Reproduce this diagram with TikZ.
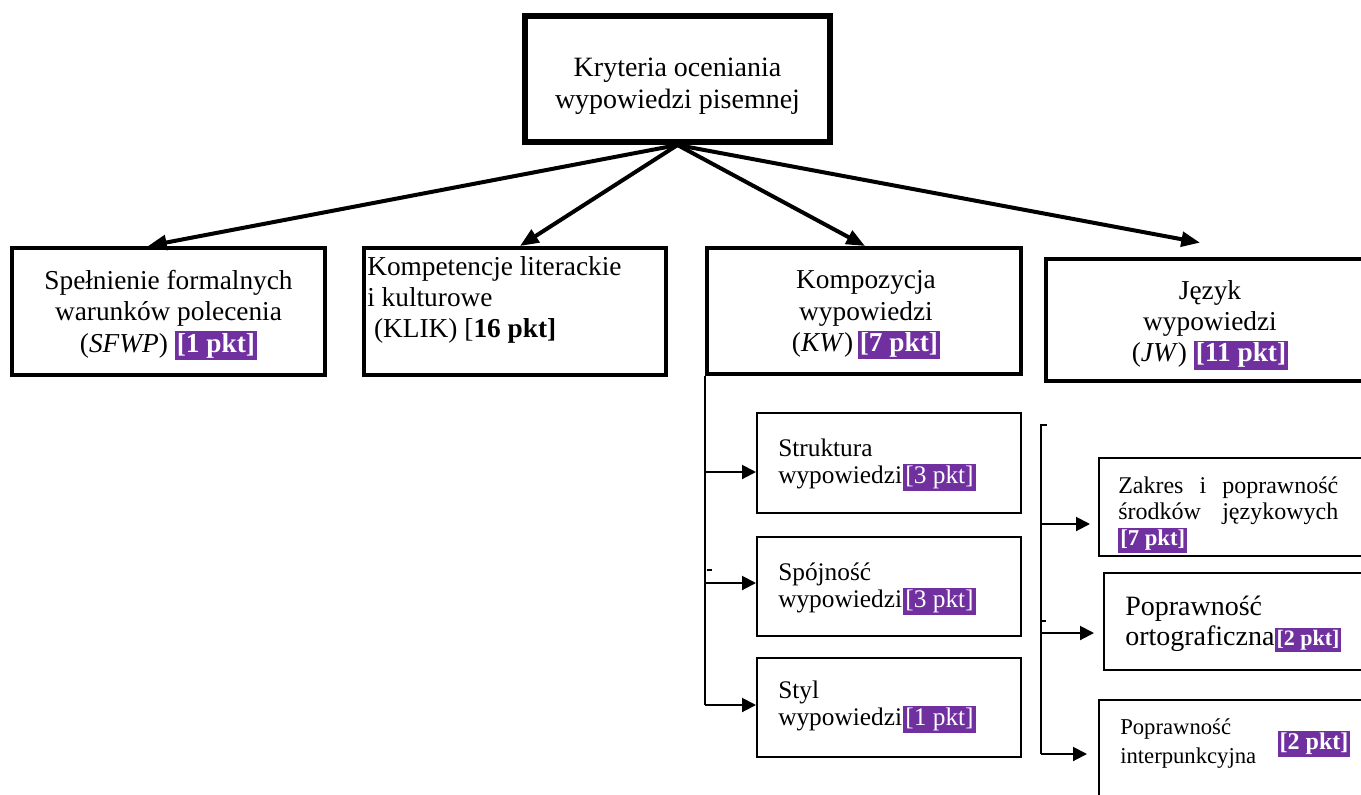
\documentclass[tikz,border=0pt]{standalone}
\usepackage{fontspec}
\setmainfont{Liberation Serif}
\usetikzlibrary{arrows.meta,calc}
\definecolor{hlp}{HTML}{7030A0}
\newcommand\hlb[1]{{\setlength{\fboxsep}{1.5pt}\colorbox{hlp}{\textcolor{white}{\textbf{#1}}}}}
\newcommand\hlr[1]{{\setlength{\fboxsep}{1.5pt}\colorbox{hlp}{\textcolor{white}{#1}}}}
\begin{document}
\begin{tikzpicture}[x=0.75pt,y=-0.75pt,
  topbox/.style={draw,line width=4.5pt,inner sep=0pt},
  mainbox/.style={draw,line width=3pt,inner sep=0pt},
  subbox/.style={draw,line width=1.5pt,inner sep=0pt},
  lbl/.style={inner sep=0pt,align=center},
  lbll/.style={inner sep=0pt,align=left,anchor=west},
  fa/.style={font=\fontsize{21}{24}\selectfont},
  fb/.style={font=\fontsize{20.5}{23.5}\selectfont},
  fc/.style={font=\fontsize{19}{20.5}\selectfont},
  toparrow/.style={line width=3pt,-{Triangle[length=14pt,width=11pt]}},
  brline/.style={line width=1.5pt},
  brarrow/.style={line width=1.5pt,-{Triangle[length=10.5pt,width=10.5pt]}}]
\useasboundingbox (0,0) rectangle (1361,794);
% boxes
\node[topbox,minimum width=305*0.75pt,minimum height=126*0.75pt] (top) at (677.5,79) {};
\node[mainbox,minimum width=313*0.75pt,minimum height=127*0.75pt] (sfwp) at (168.5,311.5) {};
\node[mainbox,minimum width=302*0.75pt,minimum height=127*0.75pt] (klik) at (515,311.5) {};
\node[mainbox,minimum width=314*0.75pt,minimum height=126*0.75pt] (kw) at (864,311) {};
\node[mainbox,line width=3.5pt,minimum width=320*0.75pt,minimum height=122*0.75pt] (jw) at (1206,320) {};
\node[subbox,minimum width=264*0.75pt,minimum height=100*0.75pt] (str) at (889,463) {};
\node[subbox,minimum width=264*0.75pt,minimum height=99*0.75pt] (spo) at (889,586.5) {};
\node[subbox,minimum width=264*0.75pt,minimum height=99*0.75pt] (sty) at (889,707.5) {};
\node[subbox,minimum width=272*0.75pt,minimum height=98*0.75pt] (zak) at (1235,507) {};
\node[subbox,minimum width=268*0.75pt,minimum height=97*0.75pt] (ort) at (1238,621.5) {};
\node[subbox,minimum width=272*0.75pt,minimum height=102*0.75pt] (int) at (1235,751) {};
% texts
\node[lbl,fa] (ttop) at (677.5,86) {Kryteria oceniania\\wypowiedzi pisemnej};
\node[lbl,fb] (tsfwp) at (168.5,315) {Spełnienie formalnych\\warunków polecenia\\(\textit{SFWP}) \hlb{[1 pkt]}};
\node[lbll,fb] (tklik) at (367,300) {Kompetencje literackie\\i kulturowe\\\hspace*{0.25em}(KLIK) [\textbf{16 pkt]}};
\node[lbl,fb] (tkw) at (866,315) {Kompozycja\\wypowiedzi\\(\textit{KW})\,\hlb{[7 pkt]}};
\node[lbl,fb] (tjw) at (1210,325) {Język\\wypowiedzi\\(\textit{JW}) \hlb{[11 pkt]}};
\node[lbll,fc] (tstr) at (778,465) {Struktura\\wypowiedzi\hspace{1pt}\hlr{[3 pkt]}};
\node[lbll,fc] (tspo) at (778,589) {Spójność\\wypowiedzi\hspace{1pt}\hlr{[3 pkt]}};
\node[lbll,fc] (tsty) at (778,707) {Styl\\wypowiedzi\hspace{1pt}\hlr{[1 pkt]}};
\node[lbll,font=\fontsize{18}{19.5}\selectfont] (tzak) at (1118,515)
  {\makebox[165pt][s]{Zakres i poprawność}\\\makebox[165pt][s]{środków językowych}\\{\fontsize{17}{19}\selectfont\hlb{[7 pkt]}}};
\node[lbll,font=\fontsize{21}{22.5}\selectfont] (tort) at (1125,624)
  {Poprawność\\ortograficzna{\fontsize{16.5}{18}\selectfont\hlb{[2 pkt]}}};
\node[lbll,font=\fontsize{17}{21.75}\selectfont] (tint) at (1120,744) {Poprawność\\interpunkcyjna};
\node[lbl,font=\fontsize{18}{19}\selectfont] (tint2) at (1314,744) {\hlb{[2 pkt]}};
% top arrows
\draw[toparrow] (top.south) -- ([xshift=-20.5*0.75pt]sfwp.north);
\draw[toparrow] (top.south) -- ([xshift=5*0.75pt]klik.north);
\draw[toparrow] (top.south) -- ([xshift=1*0.75pt]kw.north);
\draw[toparrow] (top.south) -- ([xshift=-6*0.75pt,yshift=14*0.75pt]jw.north);
% left bracket
\coordinate (lb) at (kw.south west);
\draw[brline] (lb) -- (lb |- 0,705);
\draw[brline] (707,570) -- (712,570);
\draw[brarrow] (lb |- 0,472) -- (str.west |- 0,472);
\draw[brarrow] (lb |- 0,583) -- (spo.west |- 0,583);
\draw[brarrow] (lb |- 0,705) -- (sty.west |- 0,705);
% right bracket
\coordinate (rb) at (1041,425);
\draw[brline] (1047,425) -- (rb) -- (1041,754);
\draw[brline] (1041,621) -- (1046,621);
\draw[brarrow,shorten >=8*0.75pt] (1041,524) -- (zak.west |- 0,524);
\draw[brarrow,shorten >=9*0.75pt] (1041,633) -- (ort.west |- 0,633);
\draw[brarrow,shorten >=11*0.75pt] (1041,754) -- (int.west |- 0,754);
\end{tikzpicture}
\end{document}
